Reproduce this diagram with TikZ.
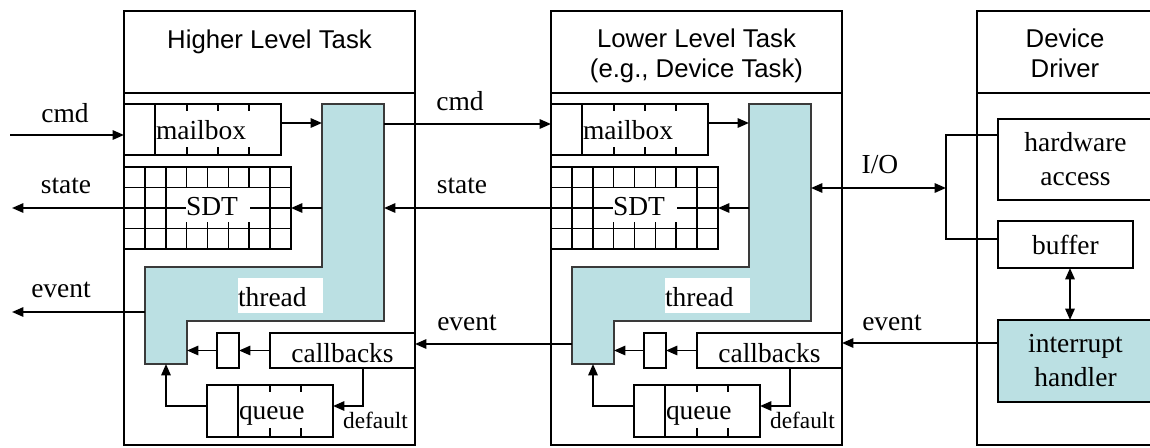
\documentclass[tikz,border=0pt]{standalone}
\usepackage{fontspec}
\setmainfont{Liberation Serif}
\newfontfamily\headfont{Liberation Sans}
\usetikzlibrary{arrows.meta,calc}
\newdimen\pxu
\pxu=0.75pt
\definecolor{threadfill}{HTML}{BBE0E3}
\definecolor{threadline}{HTML}{3A3A3A}
\tikzset{
  boxframe/.style={draw, line width=2pt, rectangle, inner sep=0pt, outer sep=0pt},
  thinframe/.style={draw, line width=1.6pt, rectangle, inner sep=0pt, outer sep=0pt},
  divider/.style={line width=1.7pt},
  gridline/.style={line width=1.2pt},
  conn/.style={line width=1.4pt},
  arr/.style={conn, -{Triangle[length=8.5pt,width=7pt]}},
  dblarr/.style={conn, {Triangle[length=8.5pt,width=7pt]}-{Triangle[length=8.5pt,width=7pt]}},
  threadshape/.style={fill=threadfill, draw=threadline, line width=0.8pt},
  serif/.style={font=\fontsize{20.6}{25.5}\selectfont},
  headtxt/.style={font=\headfont\fontsize{19.3}{22.5}\selectfont, inner sep=0pt},
  lblpatch/.style={serif, fill=white, inner sep=0pt, outer sep=0pt, text height=20\pxu, text depth=0pt},
  lbltag/.style={serif, inner sep=0pt, anchor=base},
}
\begin{document}
\begin{tikzpicture}[x=0.75pt, y=-0.75pt]
\useasboundingbox (0,0) rectangle (1150,447);
\clip (0,0) rectangle (1150,447);

% the two task columns share one inner layout
\foreach \ox/\col in {0/h, 427/l}{
\begin{scope}[shift={(\ox,0)}]
  \node[boxframe, minimum width=291\pxu, minimum height=82\pxu] (\col-head) at (269.5,52) {};
  \node[boxframe, minimum width=291\pxu, minimum height=352\pxu] (\col-body) at (269.5,269) {};

  % L-shaped thread
  \coordinate (\col-t1) at (322,104);
  \coordinate (\col-t2) at (384,104);
  \coordinate (\col-t3) at (384,321);
  \coordinate (\col-t4) at (187,321);
  \coordinate (\col-t5) at (187,364);
  \coordinate (\col-t6) at (145,364);
  \coordinate (\col-t7) at (145,267);
  \coordinate (\col-t8) at (322,267);
  \draw[threadshape] (\col-t1) -- (\col-t2) -- (\col-t3) -- (\col-t4) -- (\col-t5)
    -- (\col-t6) -- (\col-t7) -- (\col-t8) -- cycle;
  \node[lblpatch, minimum height=35\pxu, text height=21\pxu] (\col-thrtxt) at (280.5,295.5)
    {\makebox[85\pxu][l]{thread}};

  % mailbox
  \node[boxframe, minimum width=157\pxu, minimum height=51\pxu] (\col-mbox) at (202.5,129.5) {};
  \foreach \dx in {31,63,94,125}
    \draw[divider] ([xshift=\dx\pxu]\col-mbox.north west) -- ([xshift=\dx\pxu]\col-mbox.south west);
  \node[lblpatch, minimum height=36\pxu] (\col-mboxtxt) at (203.5,129)
    {\makebox[95\pxu][l]{mailbox}};

  % state data table
  \node[boxframe, minimum width=167\pxu, minimum height=82\pxu] (\col-sdt) at (207.5,208) {};
  \foreach \k in {1,...,7}
    \draw[gridline] ($(\col-sdt.north west)!\k/8!(\col-sdt.north east)$)
      -- ($(\col-sdt.south west)!\k/8!(\col-sdt.south east)$);
  \foreach \k in {1,2,3}
    \draw[gridline] ($(\col-sdt.north west)!\k/4!(\col-sdt.south west)$)
      -- ($(\col-sdt.north east)!\k/4!(\col-sdt.south east)$);
  \node[lblpatch, minimum height=34\pxu] (\col-sdttxt) at (218,205)
    {\makebox[64\pxu][l]{SDT}};

  % callbacks and selector
  \node[thinframe, serif, minimum width=145\pxu, minimum height=35\pxu, text height=23\pxu, text depth=0pt]
    (\col-cb) at (342.5,350.5) {callbacks};
  \node[thinframe, minimum width=22\pxu, minimum height=35\pxu] (\col-sb) at (228,350.5) {};

  % queue
  \node[boxframe, minimum width=126\pxu, minimum height=52\pxu] (\col-q) at (270,411) {};
  \foreach \dx in {31,63,94}
    \draw[divider] ([xshift=\dx\pxu]\col-q.north west) -- ([xshift=\dx\pxu]\col-q.south west);
  \node[lblpatch, minimum height=36\pxu, text height=18\pxu] (\col-qtxt) at (275.5,410)
    {\makebox[73\pxu][l]{queue}};

  % flows inside the task
  \draw[arr] ([yshift=6.5\pxu]\col-mbox.east) -- ([yshift=6.5\pxu]\col-mbox.east -| \col-t1);
  \draw[arr] (\col-sdt.east -| \col-t1) -- (\col-sdt.east);
  \draw[arr] (\col-cb.west) -- (\col-sb.east);
  \draw[arr] (\col-sb.west) -- (\col-sb.west -| \col-t4);
  \draw[arr] ([xshift=20.5\pxu]\col-cb.south) |- ([yshift=5\pxu]\col-q.east);
  \draw[arr] ([yshift=5\pxu]\col-q.west) -| ($(\col-t5)!0.5!(\col-t6)$);
  \node[lbltag, font=\fontsize{17.5}{20}\selectfont] (\col-dflt) at (375.5,428) {default};
\end{scope}
}

% column titles
\node[headtxt, anchor=base] (h-title) at (269.5,48) {Higher Level Task};
\node[headtxt, align=center] (l-title) at (696.5,56.3) {Lower Level Task\\(e.g., Device Task)};

% device driver column
\node[boxframe, minimum width=176\pxu, minimum height=82\pxu] (d-head) at (1065,52) {};
\node[boxframe, minimum width=176\pxu, minimum height=352\pxu] (d-body) at (1065,269) {};
\node[headtxt, align=center] (d-title) at (1065,53.3) {Device\\Driver};
\node[boxframe, serif, align=center, minimum width=155\pxu, minimum height=81\pxu] (hw) at (1075.5,159.5) {hardware\\access};
\node[boxframe, serif, minimum width=135\pxu, minimum height=47\pxu] (buf) at (1065.5,244.5) {buffer};
\node[boxframe, serif, align=center, fill=threadfill, minimum width=155\pxu, minimum height=82\pxu] (irq) at (1075.5,361) {interrupt\\handler};

% connectors between columns
\coordinate (cmd-src) at (10,135);
\coordinate (state-dst) at (12,208);
\coordinate (event-dst) at (12,312);
\coordinate (io-bar) at (946,188);
\draw[arr] (cmd-src) -- (cmd-src -| h-mbox.west);
\draw[arr] (h-sdt.west) -- (h-sdt.west -| state-dst);
\draw[arr] (event-dst -| h-t7) -- (event-dst);
\draw[arr] ([yshift=5.5\pxu]l-mbox.west -| h-t2) -- ([yshift=5.5\pxu]l-mbox.west);
\draw[arr] (l-sdt.west) -- (l-sdt.west -| h-t2);
\draw[arr] ([yshift=6.5\pxu]h-cb.east -| l-t7) -- ([yshift=6.5\pxu]h-cb.east);
\draw[arr] ([yshift=7.5\pxu]l-cb.east -| irq.west) -- ([yshift=7.5\pxu]l-cb.east);
\draw[dblarr] (io-bar -| l-t2) -- (io-bar);
\draw[conn] ([yshift=24.5\pxu]hw.west) -| (io-bar) |- ([yshift=5.5\pxu]buf.west);
\draw[dblarr] ([xshift=4.5\pxu]buf.south) -- ([xshift=4.5\pxu]buf.south |- irq.north);

% connector labels
\node[lbltag] (cmd-a) at (65,122) {cmd};
\node[lbltag] (state-a) at (66,193) {state};
\node[lbltag] (event-a) at (61,297) {event};
\node[lbltag] (cmd-b) at (460,110) {cmd};
\node[lbltag] (state-b) at (462,193) {state};
\node[lbltag] (event-b) at (467,330) {event};
\node[lbltag] (io-c) at (880,173) {I/O};
\node[lbltag] (event-c) at (892,330) {event};
\end{tikzpicture}
\end{document}
